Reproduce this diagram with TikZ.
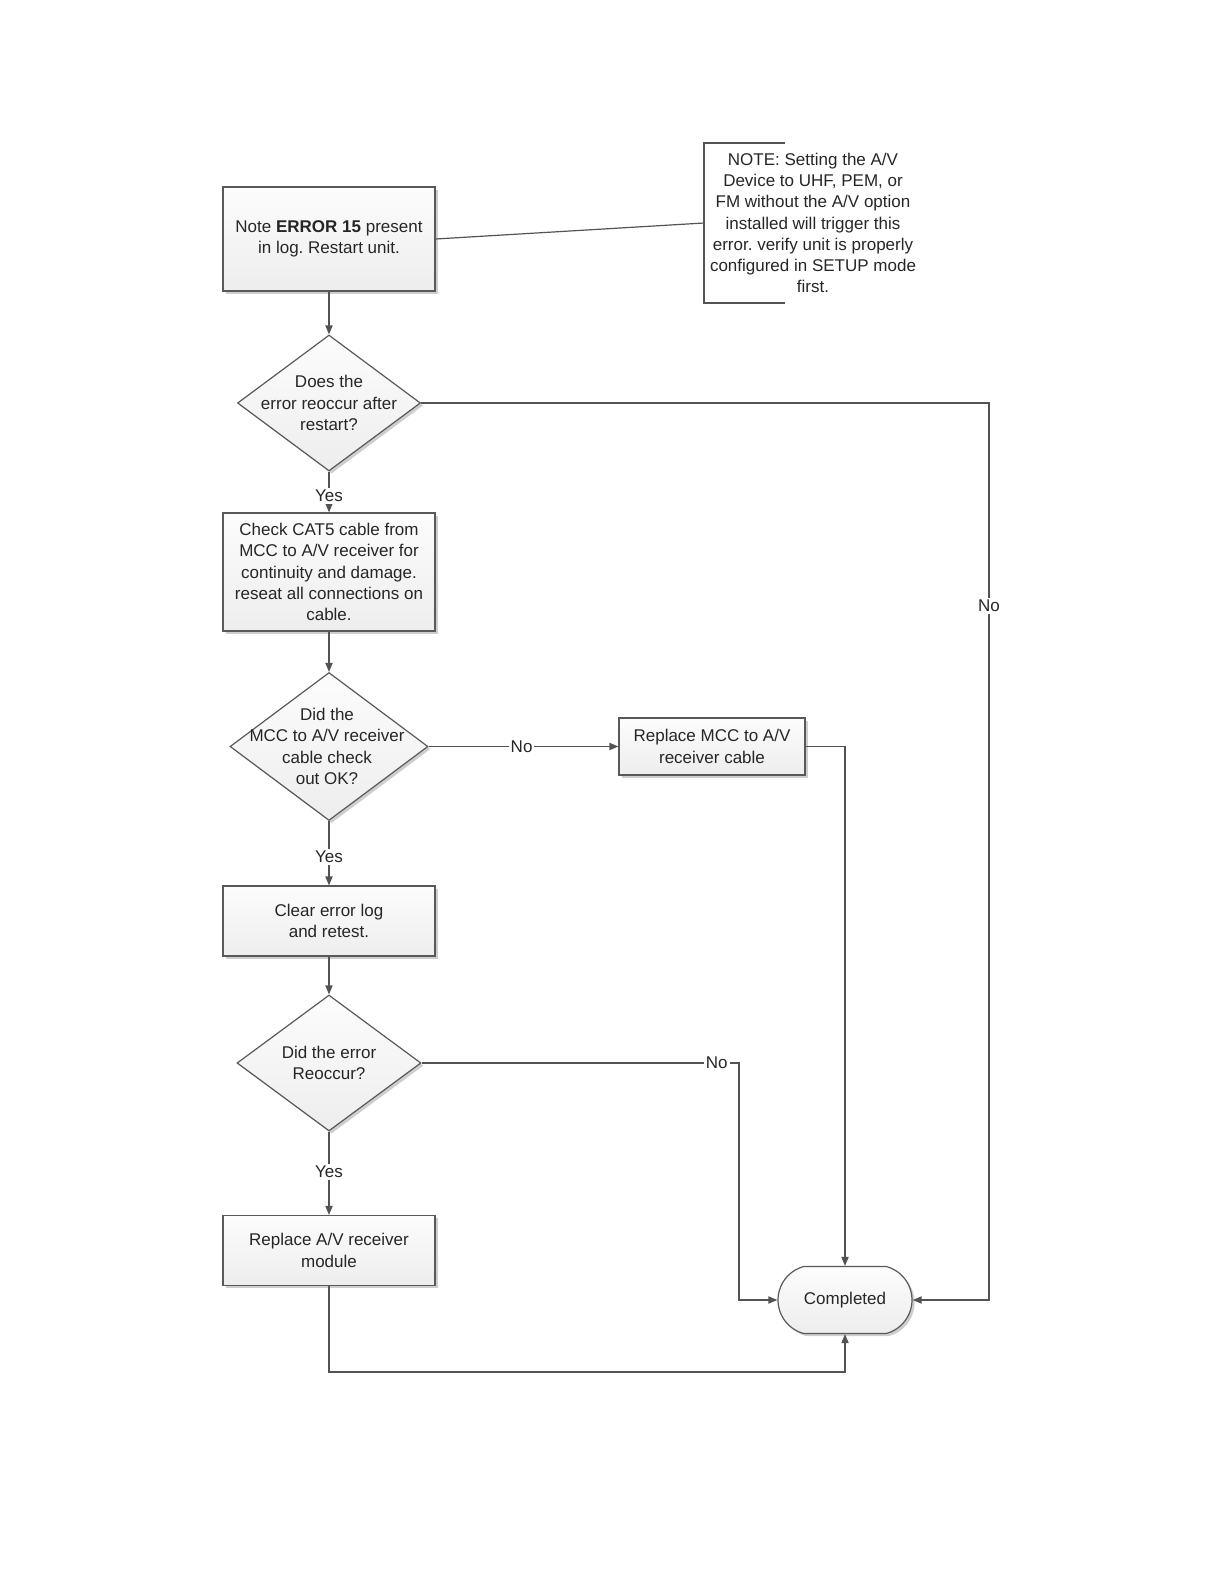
\documentclass[tikz,border=0pt]{standalone}
\usepackage{fontspec}
\setmainfont{Liberation Sans}
\usetikzlibrary{shapes.geometric,shapes.misc,arrows.meta,shadows}
\frenchspacing
\begin{document}
\begin{tikzpicture}[x=0.5pt,y=-0.5pt,
  every node/.style={font=\fontsize{8.5}{10.6}\selectfont, text=black!85},
  boxfill/.style={top color=gray!2, bottom color=gray!14, draw=gray!70!black, line width=0.6pt,
     drop shadow={shadow xshift=1.3pt, shadow yshift=-1.3pt, fill=gray!55, opacity=0.7}},
  procbox/.style={boxfill, rectangle, align=center, inner sep=0pt},
  decbox/.style={boxfill, diamond, inner sep=0pt},
  dectext/.style={align=center, inner sep=0pt},
  endbox/.style={boxfill, rounded rectangle, rounded rectangle arc length=150, inner sep=0pt},
  conn/.style={draw=gray!65!black, line width=0.6pt},
  arr/.style={conn, -{Triangle[length=4.5pt,width=3.6pt]}},
  lbl/.style={fill=white, inner sep=1pt}
]
\useasboundingbox (0,0) rectangle (1224,1584);

% process boxes
\node[procbox, minimum width=106pt, minimum height=52pt] (b1) at (329,239)
  {Note \textbf{ERROR 15} present\\in log. Restart unit.};
\node[procbox, minimum width=106pt, minimum height=59pt] (b2) at (329,572)
  {Check CAT5 cable from\\MCC to A/V receiver for\\continuity and damage.\\reseat all connections on\\cable.};
\node[procbox, minimum width=93pt, minimum height=28.5pt] (b3) at (712,746.5)
  {Replace MCC to A/V\\receiver cable};
\node[procbox, minimum width=106pt, minimum height=35pt] (b4) at (329,921)
  {Clear error log\\and retest.};
\node[procbox, minimum width=106pt, minimum height=35pt] (b5) at (329,1250.5)
  {Replace A/V receiver\\module};

% decisions
\node[decbox, minimum width=91.5pt, minimum height=68pt] (d1) at (329,403) {};
\node[dectext] (t1) at (d1.center) {Does the\\error reoccur after\\restart?};
\node[decbox, minimum width=99pt, minimum height=74pt] (d2) at (329,746.5) {};
\node[dectext] (t2) at ([xshift=-1pt]d2.center) {Did the\\MCC to A/V receiver\\cable check\\out OK?};
\node[decbox, minimum width=92pt, minimum height=68pt] (d3) at (329,1063) {};
\node[dectext] (t3) at (d3.center) {Did the error\\Reoccur?};

% terminator
\node[endbox, minimum width=67pt, minimum height=33.5pt] (done) at (845,1300) {Completed};

% note
\node[align=center, inner sep=0pt] (note) at (813,223)
  {NOTE: Setting the A/V\\Device to UHF, PEM, or\\FM without the A/V option\\installed will trigger this\\error. verify unit is properly\\configured in SETUP mode\\first.};
\coordinate (nt) at (785,143);
\coordinate (nb) at (785,303);
\coordinate (nl) at (704,223);
\draw[conn] (nt) -- (nt -| nl) -- (nb -| nl) -- (nb);
\draw[conn] (b1.east) -- (nl);

% connectors
\coordinate (c1) at (989,403);
\coordinate (c3) at (739,1063);
\coordinate (c5) at (329,1372);

\draw[arr] (b1.south) -- (d1.north);
\draw[arr] (d1.south) -- node[lbl,pos=0.6]{Yes} (b2.north);
\draw[arr] (d1.east) -- (c1) -- node[lbl,pos=0.226]{No} (c1 |- done.east) -- (done.east);
\draw[arr] (b2.south) -- (d2.north);
\draw[arr] (d2.east) -- node[lbl,pos=0.49]{No} (b3.west);
\draw[arr] (b3.east) -| (done.north);
\draw[arr] (d2.south) -- node[lbl,pos=0.56]{Yes} (b4.north);
\draw[arr] (b4.south) -- (d3.north);
\draw[arr] (d3.east) -- node[lbl,pos=0.93]{No} (c3) |- (done.west);
\draw[arr] (d3.south) -- node[lbl,pos=0.48]{Yes} (b5.north);
\draw[arr] (b5.south) -- (c5) -| (done.south);
\end{tikzpicture}
\end{document}
